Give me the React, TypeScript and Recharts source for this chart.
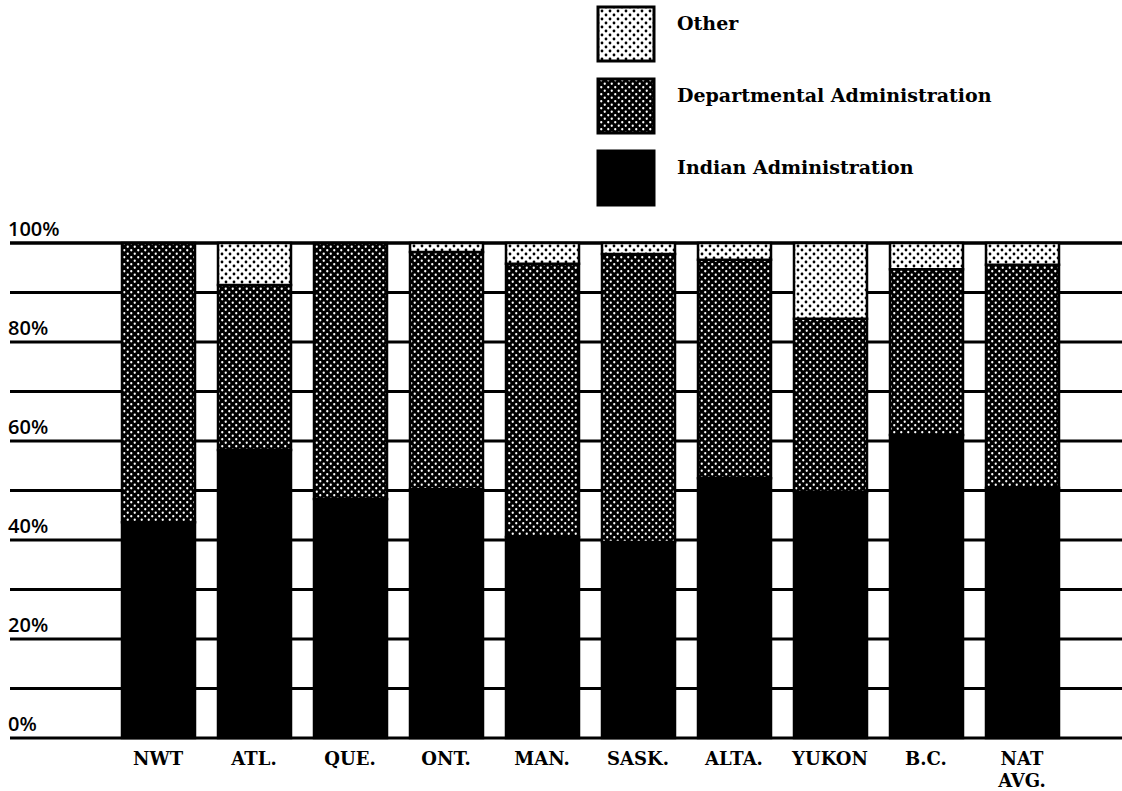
import React from 'react';
import { BarChart, Bar, XAxis, YAxis, CartesianGrid, Legend } from 'recharts';

// Regions, left to right
const categories = ['NWT', 'ATL.', 'QUE.', 'ONT.', 'MAN.', 'SASK.', 'ALTA.', 'YUKON', 'B.C.', 'NAT AVG.'];

// Share of spending (%) per region
const indianAdmin = [43.6, 58.2, 48.3, 50.3, 40.6, 39.6, 52.5, 49.7, 61.2, 50.5];
const deptAdmin = [56.4, 33.3, 51.7, 47.9, 55.2, 58.2, 44.1, 35.0, 33.5, 45.1];
const otherShare = [0, 8.5, 0, 1.8, 4.2, 2.2, 3.4, 15.3, 5.3, 4.4];

const yTicks = [0, 10, 20, 30, 40, 50, 60, 70, 80, 90, 100];
const labelledTicks = [0, 20, 40, 60, 80, 100];

const seriesNames: Record<string, string> = {
    indian: 'Indian Administration',
    dept: 'Departmental Administration',
    other: 'Other',
};

// legend reads top to bottom
const legendOrder = ['other', 'dept', 'indian'];

const fills: Record<string, string> = {
    indian: '#000',
    dept: 'url(#deptDots)',
    other: 'url(#otherDots)',
};

const data = categories.map((name, i) => ({
    name,
    indian: indianAdmin[i],
    dept: deptAdmin[i],
    other: otherShare[i],
}));

const labelFont = '"DejaVu Serif", serif';

const YTick = (props: any) => {
    const { y, payload } = props;
    if (!labelledTicks.includes(payload.value)) return null;
    return (
        <text x={8} y={y - 7} fontFamily='"Open Sans", sans-serif' fontWeight={600} fontSize={20} fill="#000">
            {payload.value}%
        </text>
    );
};

const XTick = (props: any) => {
    const { x, payload } = props;
    const lines = String(payload.value).split(' ');
    return (
        <text x={x} y={765} textAnchor="middle" fontFamily={labelFont} fontWeight="bold" fontSize={18} fill="#000">
            {lines.map((l, i) => (
                <tspan key={i} x={x} dy={i === 0 ? 0 : 22}>{l}</tspan>
            ))}
        </text>
    );
};

const renderLegend = () => (
    <svg width={440} height={210}>
        {legendOrder.map((key, i) => {
            const top = i * 72;
            return (
                <g key={key}>
                    <rect x={2} y={top + 2} width={56} height={54} fill={fills[key]} stroke="#000" strokeWidth={3} />
                    <text x={81} y={top + 25} fontFamily={labelFont} fontWeight="bold" fontSize={19} fill="#000">
                        {seriesNames[key]}
                    </text>
                </g>
            );
        })}
    </svg>
);

export default function App() {
    return (
        <div style={{ position: 'absolute', left: 0, top: 0, width: 1122, height: 791, background: '#fff' }}>
            <BarChart
                width={1122}
                height={791}
                data={data}
                margin={{ top: 243, right: 0, bottom: 3, left: 0 }}
                barSize={73}
            >
                <defs>
                    <pattern id="deptDots" width={7} height={7} patternUnits="userSpaceOnUse">
                        <rect width={7} height={7} fill="#000" />
                        <circle cx={1.75} cy={1.75} r={1.15} fill="#fff" />
                        <circle cx={5.25} cy={5.25} r={1.15} fill="#fff" />
                    </pattern>
                    <pattern id="otherDots" width={8} height={8} patternUnits="userSpaceOnUse">
                        <rect width={8} height={8} fill="#fff" />
                        <circle cx={2} cy={2} r={1.4} fill="#000" />
                        <circle cx={6} cy={6} r={1.4} fill="#000" />
                    </pattern>
                </defs>
                <CartesianGrid vertical={false} stroke="#000" strokeWidth={3} strokeDasharray="0" />
                <XAxis
                    dataKey="name"
                    height={50}
                    axisLine={false}
                    tickLine={false}
                    interval={0}
                    padding={{ left: 100, right: 52 }}
                    tick={<XTick />}
                />
                <YAxis
                    domain={[0, 100]}
                    ticks={yTicks}
                    width={10}
                    axisLine={false}
                    tickLine={false}
                    interval={0}
                    tick={<YTick />}
                />
                <Legend
                    layout="vertical"
                    align="center"
                    verticalAlign="middle"
                    content={renderLegend}
                    wrapperStyle={{ left: 596, top: 5, width: 440, height: 210 }}
                />
                <Bar dataKey="indian" name={seriesNames.indian} stackId="a" fill={fills.indian} stroke="#000" strokeWidth={2.5} isAnimationActive={false} />
                <Bar dataKey="dept" name={seriesNames.dept} stackId="a" fill={fills.dept} stroke="#000" strokeWidth={2.5} isAnimationActive={false} />
                <Bar dataKey="other" name={seriesNames.other} stackId="a" fill={fills.other} stroke="#000" strokeWidth={2.5} isAnimationActive={false} />
            </BarChart>
        </div>
    );
}
